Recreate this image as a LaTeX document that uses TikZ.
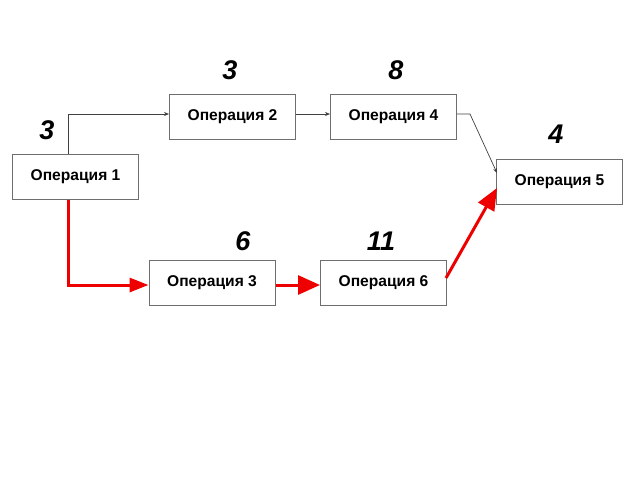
\documentclass[tikz,border=0pt]{standalone}
\usepackage{fontspec}
\setmainfont{Liberation Sans}
\usetikzlibrary{arrows.meta}
\definecolor{boxgray}{RGB}{110,110,110}
\definecolor{arrred}{RGB}{238,0,0}
\tikzset{
  opbox/.style={draw=boxgray, line width=1pt, minimum width=126pt, minimum height=45pt, inner sep=0pt, font=\bfseries\fontsize{15.6}{18}\selectfont, anchor=north west},
  numlbl/.style={font=\bfseries\itshape\fontsize{27}{30}\selectfont, inner sep=0pt},
  thinarr/.style={draw=black!75, line width=0.7pt, -{Stealth[length=5pt,width=4pt]}},
  redarr/.style={draw=arrred, line width=3pt},
}
\begin{document}
\begin{tikzpicture}[x=1pt,y=-1pt]
\useasboundingbox (0,0) rectangle (640,480);
\node[opbox] (o1) at (12,154) {Операция 1};
\node[opbox] (o2) at (169,94) {Операция 2};
\node[opbox] (o4) at (330,94) {Операция 4};
\node[opbox] (o5) at (496,159) {Операция 5};
\node[opbox] (o3) at (148.5,260) {Операция 3};
\node[opbox] (o6) at (320,260) {Операция 6};
\coordinate (c1) at (68,114);
\coordinate (c4) at (470,114);
\coordinate (c3) at (68,285);
\coordinate (c5a) at (497,173);
\coordinate (c5b) at (497,188);
\coordinate (c6) at (446,278);
% thin connectors
\draw[thinarr] (o1.north -| c1) -- (c1) -- (o2.west |- c1);
\draw[thinarr] (o2.east |- c1) -- (o4.west |- c1);
\draw[thinarr] (o4.east |- c4) -- (c4) -- (c5a);
% red connectors
\draw[redarr, -{Triangle[length=19pt,width=14pt]}] (o1.south -| c3) -- (c3) -- (o3.west |- c3);
\draw[redarr, -{Triangle[length=22pt,width=19pt]}] (o3.east |- c3) -- (o6.west |- c3);
\draw[redarr, -{Triangle[length=22pt,width=18pt]}] (c6) -- (c5b);
% labels
\node[numlbl] (n1) at (47,130) {3};
\node[numlbl] (n2) at (230,70) {3};
\node[numlbl] (n4) at (396,70) {8};
\node[numlbl] (n5) at (556,134) {4};
\node[numlbl] (n3) at (243,241) {6};
\node[numlbl] (n6) at (381,241) {11};
\end{tikzpicture}
\end{document}
